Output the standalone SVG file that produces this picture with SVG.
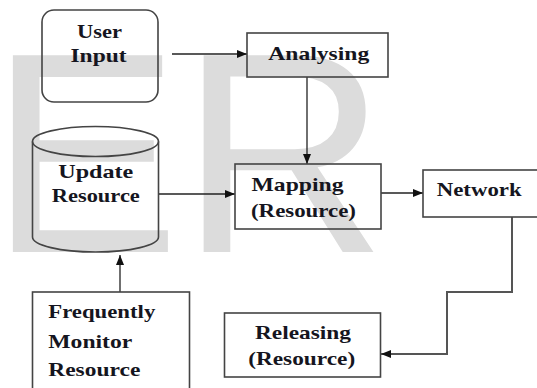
<svg xmlns="http://www.w3.org/2000/svg" width="537" height="388" viewBox="0 0 537 388">
<style>
.box{fill:none;stroke:#444;stroke-width:1.6}
.lbl{font-family:"Liberation Serif","Times New Roman",serif;font-weight:bold;font-size:19.5px;fill:#151520}
.c{text-anchor:middle}
.conn{fill:none;stroke:#222;stroke-width:1.3}
.conn2{fill:none;stroke:#555;stroke-width:2}
.wm{font-family:"Liberation Sans",Arial,sans-serif;font-size:286px;fill:#dcdcdc}
</style>
<defs>
<marker id="ah" markerUnits="userSpaceOnUse" markerWidth="10" markerHeight="10" viewBox="0 0 10 10" refX="10" refY="5" orient="auto">
<path d="M0,1 L10,5 L0,9 Z" fill="#111"/>
</marker>
</defs>
<rect width="537" height="388" fill="#fff"/>
<text class="wm" x="-10.6" y="252">ER</text>

<g id="connectors">
<line class="conn" x1="172" y1="54" x2="247" y2="54" marker-end="url(#ah)"/>
<line class="conn" x1="307" y1="77" x2="307" y2="164" marker-end="url(#ah)"/>
<line class="conn" x1="158" y1="194" x2="235" y2="194" marker-end="url(#ah)"/>
<line class="conn" x1="381" y1="193" x2="423" y2="193" marker-end="url(#ah)"/>
<line class="conn" x1="120" y1="292" x2="120" y2="255" marker-end="url(#ah)"/>
<path class="conn2" d="M512,217 V292 H447 V354 H381" marker-end="url(#ah)"/>
</g>

<g id="user-input">
<rect class="box" x="42" y="10" width="116" height="92" rx="12"/>
<text class="lbl c" x="99.5" y="38" textLength="45" lengthAdjust="spacingAndGlyphs">User</text>
<text class="lbl c" x="98.5" y="62" textLength="56" lengthAdjust="spacingAndGlyphs">Input</text>
</g>

<g id="analysing">
<rect class="box" x="247" y="33" width="141" height="44"/>
<text class="lbl c" x="318.8" y="60" textLength="101" lengthAdjust="spacingAndGlyphs">Analysing</text>
</g>

<g id="update-resource">
<path class="box" d="M32.5,141.5 V237 A63,15 0 0 0 158.5,237 V141.5"/>
<ellipse class="box" cx="95.5" cy="141.5" rx="63" ry="15"/>
<text class="lbl c" x="95.8" y="178" textLength="75" lengthAdjust="spacingAndGlyphs">Update</text>
<text class="lbl c" x="95.8" y="202" textLength="88" lengthAdjust="spacingAndGlyphs">Resource</text>
</g>

<g id="mapping">
<rect class="box" x="235" y="164" width="146" height="65"/>
<text class="lbl" x="251.5" y="191" textLength="92" lengthAdjust="spacingAndGlyphs">Mapping</text>
<text class="lbl" x="251" y="216.5" textLength="105" lengthAdjust="spacingAndGlyphs">(Resource)</text>
</g>

<g id="network">
<rect class="box" x="423" y="170" width="130" height="47"/>
<text class="lbl" x="436.7" y="196" textLength="85" lengthAdjust="spacingAndGlyphs">Network</text>
</g>

<g id="frequently-monitor">
<rect class="box" x="32.5" y="292" width="157" height="110"/>
<text class="lbl" x="48.3" y="318.3" textLength="107" lengthAdjust="spacingAndGlyphs">Frequently</text>
<text class="lbl" x="48.3" y="348.3" textLength="84" lengthAdjust="spacingAndGlyphs">Monitor</text>
<text class="lbl" x="48.3" y="375.7" textLength="92" lengthAdjust="spacingAndGlyphs">Resource</text>
</g>

<g id="releasing">
<rect class="box" x="224.5" y="313" width="156" height="64"/>
<text class="lbl c" x="303" y="339.3" textLength="96" lengthAdjust="spacingAndGlyphs">Releasing</text>
<text class="lbl c" x="301.7" y="365" textLength="107" lengthAdjust="spacingAndGlyphs">(Resource)</text>
</g>
</svg>
